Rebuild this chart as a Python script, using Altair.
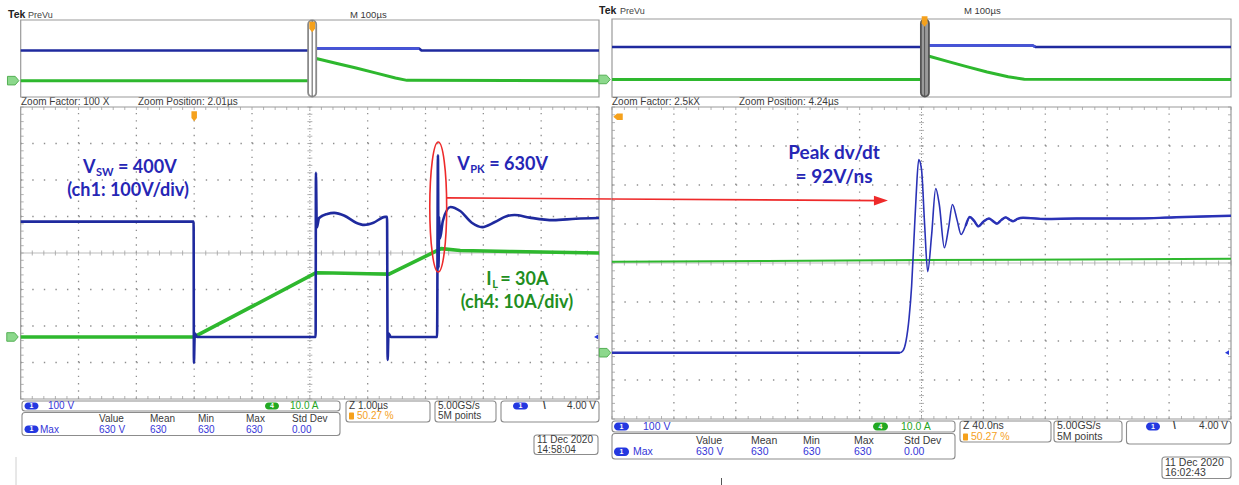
import altair as alt
import pandas as pd

W, H = 1239, 485

# ===================== values =====================
# Left capture (11 Dec 2020 14:58:04) - zoomed window, time in µs (1.00 µs/div)
left_t_vsw = [0.00, 2.99, 2.995, 3.01, 3.05, 5.10, 5.105, 5.12, 5.16, 5.30, 5.42,
              5.60, 5.80, 5.94, 6.10, 6.30, 6.335, 6.345, 6.36, 6.40, 7.20, 7.215,
              7.225, 7.235, 7.25, 7.30, 7.43, 7.60, 7.80, 7.98, 8.20, 8.40, 8.54,
              8.80, 9.21, 9.60, 10.00]
left_vsw = [316, 316, -71, 10, 0, 0, 450, 300, 326, 337, 340,
            332, 313, 307, 313, 329, 329, -63, 10, 0, 0, 498,
            190, 330, 270, 318, 356, 345, 313, 301, 315, 331, 334,
            327, 320, 324, 326]                       # ch1 V_SW [V]
left_t_il = [0.00, 3.00, 5.11, 5.40, 6.00, 6.37, 7.27, 7.60, 8.50, 10.00]
left_il = [0.0, 0.0, 17.6, 17.5, 17.3, 17.2, 24.2, 23.7, 23.4, 23.0]   # ch4 I_L [A]

# Right capture (11 Dec 2020 16:02:43) - zoomed window, time in ns (40.0 ns/div)
right_t_vsw = [0, 100, 186, 188, 190, 192, 193.6, 195, 196.5, 198.2,
               200, 202, 204, 206.5, 209.2, 211.5, 214.8, 217.5, 220, 223,
               225.6, 228.5, 231.2, 234, 236.8, 240, 243.6, 246, 248.8, 251.5,
               254.4, 257, 259.2, 262, 265.6, 280, 300, 334, 370, 400]
right_vsw = [0, 0, 0, 5, 30, 90, 170, 280, 400, 495,
             470, 330, 208, 300, 421, 380, 269, 320, 380, 340,
             303, 325, 348, 338, 324, 336, 344, 338, 331, 340,
             347, 341, 337, 343, 346, 343, 344, 344, 348, 351]
right_t_il = [0, 100, 200, 300, 400]
right_il = [23.3, 23.5, 23.8, 23.9, 24.1]

# PreVu overview records, time in µs (M 100 µs/div)
lov_t_vsw = [0, 504, 507, 600, 689, 693, 1000]
lov_vsw = [313, 313, 336, 335, 333, 313, 313]
lov_t_il = [0, 505, 508, 511, 545, 580, 615, 648, 668, 1000]
lov_il = [0, 0, 20, 23.0, 18.0, 13.1, 7.8, 2.7, 0.3, 0]
rov_t_vsw = [0, 505, 508, 600, 680, 684, 1000]
rov_vsw = [333, 333, 350, 349, 348, 333, 333]
rov_t_il = [0, 506, 508, 511, 542, 573, 606, 640, 666, 1000]
rov_il = [0, 0, 21, 24.0, 18.5, 13.1, 7.7, 2.8, 0.2, 0]

# scope read-outs (text)
hdr_left = ["Tek", "PreVu", "M 100µs", "Zoom Factor: 100 X", "Zoom Position: 2.01µs"]
hdr_right = ["Tek", "PreVu", "M 100µs", "Zoom Factor: 2.5kX", "Zoom Position: 4.24µs"]
meas_head = ["Value", "Mean", "Min", "Max", "Std Dev"]
meas_vals = ["630 V", "630", "630", "630", "0.00"]
left_setup = ["100 V", "10.0 A", "Z 1.00µs", "50.27 %", "5.00GS/s", "5M points", "4.00 V", "11 Dec 2020", "14:58:04"]
right_setup = ["100 V", "10.0 A", "Z 40.0ns", "50.27 %", "5.00GS/s", "5M points", "4.00 V", "11 Dec 2020", "16:02:43"]

# ===================== layout / style =====================
UI = "Liberation Sans"
ANN = "Lato"
C_BLUE = "#1f2a9e"
C_BLUE_LT = "#4654d8"
C_BLUE_R = "#2a32b6"
C_GREEN = "#2eb82e"
C_ANN_B = "#2626b5"
C_ANN_G = "#1f8f1f"
C_RED = "#ee2a2a"
C_ORANGE = "#f5a11c"
C_GRID = "#8e8e8e"
C_FRAME = "#9a9a9a"
C_TXT = "#3a3a3a"
C_INFO_B = "#3535d8"
C_INFO_G = "#25a525"

LM = {"x": (20.7, 599.0), "y": (399.0, 107.0)}
RM = {"x": (612.0, 1231.0), "y": (419.0, 107.0)}
LO = {"x": (20.7, 599.0), "y": (97.0, 20.0)}
RO = {"x": (612.0, 1231.0), "y": (97.0, 19.0)}
CV = {"x": (0.0, float(W)), "y": (0.0, float(H))}

V_DOM = (-170, 630)     # ch1 100 V/div, ground 2.3 div below centre
A_DOM = (-17, 63)       # ch4 10 A/div

PIN = "M-0.55,-1 L0.55,-1 L0.55,0.35 L0,1 L-0.55,0.35 Z"
TAG = "M-1,-0.75 L0.35,-0.75 L1,0 L0.35,0.75 L-1,0.75 Z"
LEFTPIN = "M1,-0.7 L1,0.7 L-0.2,0.7 L-1,0 L-0.2,-0.7 Z"
HEAD = "M-1,-0.7 L1,0 L-1,0.7 Z"
ELL = ("M0,-1 C0.0718,-1 0.13,-0.5523 0.13,0 C0.13,0.5523 0.0718,1 0,1 "
       "C-0.0718,1 -0.13,0.5523 -0.13,0 C-0.13,-0.5523 -0.0718,-1 0,-1 Z")


def sc(domain, rng):
    return alt.Scale(domain=list(domain), range=list(rng), nice=False, zero=False)


def XY(xs, ys, xf="x:Q", yf="y:Q"):
    return dict(x=alt.X(xf, scale=xs, axis=None), y=alt.Y(yf, scale=ys, axis=None))


def trace(t, v, xdom, ydom, panel, color, width, interp="linear", window=None):
    df = pd.DataFrame({"x": t, "y": v})
    ch = alt.Chart(df)
    if window is not None:
        ch = ch.transform_filter((alt.datum.x >= window[0]) & (alt.datum.x <= window[1]))
    return ch.mark_line(color=color, strokeWidth=width, interpolate=interp,
                        strokeJoin="round").encode(
        **XY(sc(xdom, panel["x"]), sc(ydom, panel["y"])))


def points(rows, xdom, ydom, panel, **mk):
    df = pd.DataFrame(rows, columns=["x", "y"])
    return alt.Chart(df).mark_point(**mk).encode(**XY(sc(xdom, panel["x"]), sc(ydom, panel["y"])))


def texts(rows, xdom, ydom, panel, **mk):
    df = pd.DataFrame(rows, columns=["x", "y", "s"])
    mk.setdefault("baseline", "middle")
    mk.setdefault("align", "left")
    return alt.Chart(df).mark_text(**mk).encode(
        text="s:N", **XY(sc(xdom, panel["x"]), sc(ydom, panel["y"])))


def rects(rows, xdom, ydom, panel, **mk):
    df = pd.DataFrame(rows, columns=["x", "y", "x2", "y2"])
    return alt.Chart(df).mark_rect(**mk).encode(
        x2="x2:Q", y2="y2:Q", **XY(sc(xdom, panel["x"]), sc(ydom, panel["y"])))


def segs(rows, xdom, ydom, panel, **mk):
    df = pd.DataFrame(rows, columns=["x", "y", "x2", "y2"])
    return alt.Chart(df).mark_rule(**mk).encode(
        x2="x2:Q", y2="y2:Q", **XY(sc(xdom, panel["x"]), sc(ydom, panel["y"])))


def cv_text(rows, **mk):
    mk.setdefault("font", UI)
    mk.setdefault("fontSize", 10)
    return texts(rows, (0, W), (0, H), CV, **mk)


def cv_rect(rows, **mk):
    return rects(rows, (0, W), (0, H), CV, **mk)


def main_grid(panel):
    xd, yd = (0, 10), (-4, 4)
    px_x = (panel["x"][1] - panel["x"][0]) / 10
    px_y = (panel["y"][0] - panel["y"][1]) / 8
    L = []
    L.append(segs([(d, -4.0, d, 4.0) for d in [1, 2, 3, 4, 6, 7, 8, 9]], xd, yd, panel,
                  color=C_GRID, strokeWidth=1.3, strokeDash=[1.4, px_y * 0.2 - 1.4]))
    L.append(segs([(0.0, d, 10.0, d) for d in [-3, -2, -1, 1, 2, 3]], xd, yd, panel,
                  color=C_GRID, strokeWidth=1.3, strokeDash=[1.4, px_x * 0.2 - 1.4]))
    L.append(segs([(0.0, 0.0, 10.0, 0.0)], xd, yd, panel, color="#bdbdbd", strokeWidth=1.2))
    L.append(segs([(5.0, -4.0, 5.0, 4.0)], xd, yd, panel, color="#9a9a9a", strokeWidth=1,
                  strokeDash=[1, 2]))
    mx = [i * 0.2 for i in range(51)]
    my = [-4 + i * 0.2 for i in range(41)]
    t = 2.5
    tk = ([(x, -t / px_y, x, t / px_y) for x in mx] +
          [(x, 4 - 3 / px_y, x, 4.0) for x in mx] +
          [(x, -4.0, x, -4 + 3 / px_y) for x in mx] +
          [(5 - t / px_x, y, 5 + t / px_x, y) for y in my] +
          [(0.0, y, 3 / px_x, y) for y in my] +
          [(10 - 3 / px_x, y, 10.0, y) for y in my])
    L.append(segs(tk, xd, yd, panel, color="#a0a0a0", strokeWidth=0.8))
    L.append(rects([(0.0, -4.0, 10.0, 4.0)], xd, yd, panel, fillOpacity=0,
                   stroke=C_FRAME, strokeWidth=1.2))
    return L


def overview(panel, vdom, idom, tv, v, ti, i, bar, bar_fill, bar_stroke, trig, pin_v, tag_t):
    td = (0, 1000)
    L = [rects([(0, vdom[0], 1000, vdom[1])], td, vdom, panel, fillOpacity=0,
               stroke=C_FRAME, strokeWidth=1.2)]
    L.append(trace(ti, i, td, idom, panel, C_GREEN, 3.0))
    L.append(trace(tv, v, td, vdom, panel, C_BLUE, 2.6))
    L.append(trace(tv, v, td, vdom, panel, C_BLUE_LT, 2.6, window=(trig + 2, 690)))
    L.append(rects([(bar[0], vdom[0] + 4, bar[1], vdom[1] - 4)], td, vdom, panel,
                   fill=bar_fill, stroke=bar_stroke, strokeWidth=1.8, cornerRadius=4))
    L.append(segs([(trig, vdom[0] + 8, trig, vdom[1] - 8)], td, vdom, panel,
                  color="#555555", strokeWidth=1))
    L.append(points([(trig, pin_v)], td, vdom, panel, shape=PIN, size=110, filled=True,
                    color=C_ORANGE, opacity=1))
    L.append(points([(tag_t, 0)], td, idom, panel, shape=TAG, size=130, filled=True,
                    fill="#8cd88c", stroke="#55b055", strokeWidth=1, opacity=1))
    return L


layers = []

# ---------------- header texts ----------------
layers.append(cv_text([(8, 15, hdr_left[0]), (599, 10.5, hdr_right[0])], fontWeight="bold",
                      fontSize=10.5, color="#222222"))
layers.append(cv_text([(28, 15, hdr_left[1]), (620, 10.5, hdr_right[1])], fontSize=9,
                      color="#444444"))
layers.append(cv_text([(350, 15, hdr_left[2]), (964, 10.5, hdr_right[2])], fontSize=9.5,
                      color=C_TXT))
layers.append(cv_text([(21, 102, hdr_left[3]), (138, 102, hdr_left[4]),
                       (612, 102, hdr_right[3]), (739, 102, hdr_right[4])],
                      fontSize=10, color=C_TXT))

# ---------------- overview panels ----------------
layers += overview(LO, V_DOM, A_DOM, lov_t_vsw, lov_vsw, lov_t_il, lov_il,
                   (497, 511), "#ffffff", "#8a8a8a", 504, 557, -13)
layers += overview(RO, (-180, 620), (-18, 62), rov_t_vsw, rov_vsw, rov_t_il, rov_il,
                   (499, 512), "#9a9a9a", "#555555", 505, 594, -12)

# ---------------- left main window ----------------
layers += main_grid(LM)
LT = (0, 10)
layers.append(trace(left_t_il, left_il, LT, A_DOM, LM, C_GREEN, 3.6))
layers.append(trace(left_t_vsw, left_vsw, LT, V_DOM, LM, C_BLUE, 2.6, "monotone"))
layers.append(points([(3.0, 605)], LT, V_DOM, LM, shape=PIN, size=100, filled=True,
                     color=C_ORANGE, opacity=1))
layers.append(points([(-0.142, 0)], LT, A_DOM, LM, shape=TAG, size=130, filled=True,
                     fill="#8cd88c", stroke="#55b055", strokeWidth=1, opacity=1))
layers.append(points([(9.95, 0)], LT, V_DOM, LM, shape="triangle-left", size=22, filled=True,
                     color="#2a3ad8", opacity=1))
# red highlight of the V_PK event and arrow to the right capture
layers.append(points([(7.22, 356)], LT, V_DOM, LM, shape=ELL, size=16900, filled=False,
                     color=C_RED, strokeWidth=1.6, opacity=1))
layers.append(segs([(7.36, 381, 10.23, 378)], LT, V_DOM, LM, color=C_RED, strokeWidth=1.6))
ann_b = dict(font=ANN, fontWeight="bold", color=C_ANN_B)
ann_g = dict(font=ANN, fontWeight="bold", color=C_ANN_G)
layers.append(texts([(1.078, 463, "V")], LT, V_DOM, LM, fontSize=18, **ann_b))
layers.append(texts([(1.078, 463, "SW")], LT, V_DOM, LM, fontSize=11, dx=13, dy=5, **ann_b))
layers.append(texts([(1.078, 463, "= 400V")], LT, V_DOM, LM, fontSize=18, dx=35, **ann_b))
layers.append(texts([(1.856, 400, "(ch1: 100V/div)")], LT, V_DOM, LM, fontSize=18,
                    align="center", **ann_b))
layers.append(texts([(7.549, 471, "V")], LT, V_DOM, LM, fontSize=18, **ann_b))
layers.append(texts([(7.549, 471, "PK")], LT, V_DOM, LM, fontSize=11, dx=13, dy=5, **ann_b))
layers.append(texts([(7.549, 471, "= 630V")], LT, V_DOM, LM, fontSize=18, dx=32, **ann_b))
layers.append(texts([(8.05, 156, "I")], LT, V_DOM, LM, fontSize=18, **ann_g))
layers.append(texts([(8.05, 156, "L")], LT, V_DOM, LM, fontSize=11, dx=6, dy=5, **ann_g))
layers.append(texts([(8.05, 156, "= 30A")], LT, V_DOM, LM, fontSize=18, dx=14, **ann_g))
layers.append(texts([(8.58, 92, "(ch4: 10A/div)")], LT, V_DOM, LM, fontSize=18,
                    align="center", **ann_g))

# ---------------- right main window ----------------
layers += main_grid(RM)
RT = (0, 400)
layers.append(trace(right_t_il, right_il, RT, A_DOM, RM, C_GREEN, 2.0))
layers.append(trace(right_t_vsw, right_vsw, RT, V_DOM, RM, C_BLUE_R, 1.6, "monotone"))
layers.append(trace(right_t_vsw, right_vsw, RT, V_DOM, RM, C_BLUE_R, 2.6, "monotone",
                    window=(0, 186)))
layers.append(trace(right_t_vsw, right_vsw, RT, V_DOM, RM, C_BLUE_R, 2.4, "monotone",
                    window=(228, 400)))
layers.append(points([(3.9, 605)], RT, V_DOM, RM, shape=LEFTPIN, size=90, filled=True,
                     color=C_ORANGE, opacity=1))
layers.append(points([(-4.5, 0)], RT, A_DOM, RM, shape=TAG, size=130, filled=True,
                     fill="#8cd88c", stroke="#55b055", strokeWidth=1, opacity=1))
layers.append(points([(397.4, 0)], RT, V_DOM, RM, shape="triangle-left", size=22, filled=True,
                     color="#2a3ad8", opacity=1))
layers.append(segs([(0, 394, 173.8, 390)], RT, V_DOM, RM, color=C_RED, strokeWidth=1.6))
layers.append(points([(173.8, 390)], RT, V_DOM, RM, shape=HEAD, size=196, filled=True,
                     color=C_RED, opacity=1))
layers.append(texts([(143.5, 513, "Peak dv/dt")], RT, V_DOM, RM, fontSize=19,
                    align="center", **ann_b))
layers.append(texts([(143.5, 451, "= 92V/ns")], RT, V_DOM, RM, fontSize=19,
                    align="center", **ann_b))

# ---------------- read-out boxes ----------------
box_rows = [(22, 401, 340, 411), (22, 412.5, 340, 435.5), (346, 401, 430, 422),
            (435, 401, 496, 422), (501, 401, 599, 422), (534, 435, 598, 454.5),
            (612, 421, 955, 432), (612, 433.5, 955, 459), (960, 421, 1051, 442),
            (1054, 421, 1122, 442), (1126.5, 421, 1231, 444), (1162, 457, 1231, 478.5)]
layers.append(cv_rect(box_rows, fill="#ffffff", stroke="#8c8c8c", strokeWidth=1.1,
                      cornerRadius=3))
blue_pills = [(24.5, 402.5, 38.5, 409.5), (24.5, 425.5, 38.5, 433), (513, 402.5, 528, 409.5),
              (614, 422.5, 629, 430.5), (614, 447.5, 629, 456), (1146, 422.5, 1160, 430.5)]
green_pills = [(265, 402.5, 279, 409.5), (873, 422.5, 888, 430.5)]
layers.append(cv_rect(blue_pills, fill="#2438e0", cornerRadius=4))
layers.append(cv_rect(green_pills, fill="#22a822", cornerRadius=4))
layers.append(cv_rect([(349, 412.5, 354, 419.5), (963, 433.5, 968, 440.5)], fill=C_ORANGE,
                      cornerRadius=1))
layers.append(cv_text([(31.5, 406, "1"), (31.5, 429.2, "1"), (520.5, 406, "1"),
                       (621.5, 426.5, "1"), (621.5, 451.8, "1"), (1153, 426.5, "1")],
                      align="center", fontSize=7, fontWeight="bold", color="#ffffff"))
layers.append(cv_text([(272, 406, "4"), (880.5, 426.5, "4")], align="center", fontSize=7,
                      fontWeight="bold", color="#ffffff"))

hx_l = [99, 150, 198, 246, 292]
hx_r = [696, 751, 803, 854, 904]
layers.append(cv_text([(x, 419, s) for x, s in zip(hx_l, meas_head)], color=C_TXT))
layers.append(cv_text([(x, 441, s) for x, s in zip(hx_r, meas_head)], fontSize=10.5,
                      color=C_TXT))
layers.append(cv_text([(48, 406, left_setup[0]), (40, 429.5, "Max")] +
                      [(x, 429.5, s) for x, s in zip(hx_l, meas_vals)], color=C_INFO_B))
layers.append(cv_text([(643, 426.5, right_setup[0]), (633, 451.5, "Max")] +
                      [(x, 451.5, s) for x, s in zip(hx_r, meas_vals)], fontSize=10.5,
                      color=C_INFO_B))
layers.append(cv_text([(290, 406, left_setup[1])], color=C_INFO_G))
layers.append(cv_text([(901, 426.5, right_setup[1])], fontSize=10.5, color=C_INFO_G))
layers.append(cv_text([(357, 416, left_setup[3])], color=C_ORANGE))
layers.append(cv_text([(971, 437, right_setup[3])], fontSize=10.5, color=C_ORANGE))
layers.append(cv_text([(349, 405.5, left_setup[2]), (438, 405.5, left_setup[4]),
                       (438, 416, left_setup[5]), (537, 440, left_setup[7]),
                       (537, 449.5, left_setup[8])], color=C_TXT))
layers.append(cv_text([(963, 426, right_setup[2]), (1057, 426, right_setup[4]),
                       (1057, 437, right_setup[5]), (1165, 462.5, right_setup[7]),
                       (1165, 472.5, right_setup[8])], fontSize=10.5, color=C_TXT))
layers.append(cv_text([(596, 406, left_setup[6]), (1228, 426, right_setup[6])],
                      align="right", color=C_TXT))
layers.append(cv_text([(543, 406, "\\"), (1173, 426, "\\")], fontWeight="bold", color=C_TXT))
layers.append(segs([(16, 457, 16, 485)], (0, W), (0, H), CV, color="#d0d0d0", strokeWidth=1))
layers.append(segs([(721.5, 478, 721.5, 485)], (0, W), (0, H), CV, color="#555555",
                   strokeWidth=1))

chart = alt.layer(*layers).resolve_scale(x="independent", y="independent").properties(
    width=W, height=H, padding=0, background="#ffffff",
    autosize=alt.AutoSizeParams(type="none"),
).configure_view(stroke=None)

chart.save("out.html", embed_options={"renderer": "svg", "actions": False})
